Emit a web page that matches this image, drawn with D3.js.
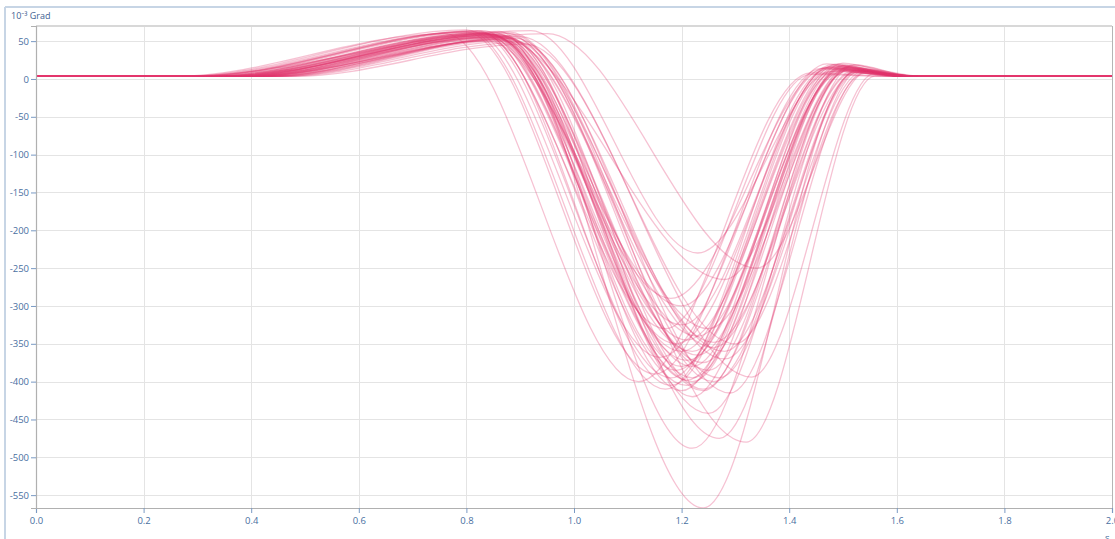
<!DOCTYPE html>
<html><head><meta charset="utf-8">
<script src="https://cdn.jsdelivr.net/npm/d3@7"></script>
<style>
html,body{margin:0;padding:0;background:#fff;overflow:hidden}
svg{display:block;font-family:"Open Sans","Noto Sans",sans-serif}
</style></head>
<body>
<svg id="c" width="1115" height="539"></svg>
<script>
// Axis ticks
const xTicks = [0.0,0.2,0.4,0.6,0.8,1.0,1.2,1.4,1.6,1.8,2.0];
const yTicks = [50,0,-50,-100,-150,-200,-250,-300,-350,-400,-450,-500,-550];
const yUnit = "10\u207B\u00B3 Grad";
const xUnit = "s";
const baseline = 3.5;

// Key points of each trace (time in s, value in 10^-3 Grad)
const startT = [0.26,0.28,0.30,0.33,0.36,0.38,0.31,0.40,0.34,0.38,0.36,0.43,0.27,0.38,0.35,0.41,0.32,0.34,0.39,0.42,0.37,0.29,0.45,0.33,0.40,0.36,0.44,0.31,0.38,0.34,0.41,0.27,0.46,0.35,0.39,0.32,0.43,0.37,0.48,0.30,0.40,0.34,0.42,0.36,0.38,0.33,0.45,0.29];
const peakT  = [0.76,0.80,0.82,0.83,0.85,0.84,0.86,0.87,0.88,0.87,0.85,0.90,0.92,0.95,0.86,0.84,0.83,0.84,0.86,0.88,0.85,0.81,0.89,0.84,0.86,0.87,0.88,0.82,0.85,0.86,0.87,0.80,0.90,0.84,0.88,0.83,0.86,0.85,0.91,0.82,0.87,0.84,0.89,0.86,0.85,0.88,0.87,0.83];
const peakV  = [60,62,64,60,58,55,63,52,60,57,59,56,64,60,55,50,61,59,57,54,62,63,50,60,58,61,53,62,56,59,55,65,48,60,57,61,52,58,46,63,56,60,54,59,57,62,51,64];
const minT   = [1.12,1.15,1.17,1.18,1.20,1.22,1.24,1.22,1.32,1.27,1.25,1.33,1.23,1.34,1.28,1.20,1.19,1.21,1.22,1.24,1.20,1.16,1.26,1.23,1.25,1.28,1.22,1.18,1.21,1.24,1.26,1.17,1.29,1.20,1.27,1.22,1.23,1.19,1.30,1.21,1.25,1.18,1.28,1.24,1.22,1.26,1.21,1.20];
const minV   = [-400,-390,-330,-405,-380,-360,-567,-488,-480,-475,-442,-394,-230,-250,-265,-300,-350,-372,-395,-410,-412,-368,-400,-340,-385,-360,-420,-395,-345,-375,-355,-410,-415,-325,-395,-400,-365,-385,-350,-405,-330,-290,-370,-412,-380,-348,-398,-360];
const overT  = [1.44,1.46,1.44,1.48,1.50,1.49,1.52,1.51,1.56,1.53,1.52,1.56,1.48,1.55,1.51,1.47,1.48,1.50,1.51,1.52,1.49,1.47,1.53,1.50,1.51,1.53,1.50,1.48,1.49,1.51,1.52,1.47,1.54,1.48,1.53,1.50,1.50,1.49,1.54,1.50,1.52,1.47,1.54,1.51,1.50,1.53,1.50,1.49];
const overV  = [8,14,6,15,10,14,8,12,4,10,18,8,10,12,16,20,17,13,11,9,18,15,12,21,14,10,16,19,12,15,11,13,9,17,14,18,12,16,7,14,19,15,11,13,17,12,15,20];
const endT   = [1.59,1.60,1.59,1.61,1.62,1.62,1.63,1.63,1.65,1.64,1.63,1.65,1.62,1.65,1.63,1.61,1.61,1.62,1.62,1.63,1.61,1.60,1.64,1.62,1.63,1.64,1.62,1.61,1.62,1.63,1.63,1.60,1.64,1.61,1.64,1.62,1.62,1.61,1.65,1.62,1.63,1.61,1.64,1.63,1.62,1.64,1.62,1.61];

(function(){
const svg = d3.select("#c");
const W = 1115, H = 539;
const mL = 36, mR = 1112, mT = 26, mB = 508;

const x = d3.scaleLinear().domain([0, 2]).range([mL, mR]);
const y = d3.scaleLinear().domain([-567, 70]).range([mB, mT]);

// panel frame
svg.append("line").attr("x1",5).attr("x2",W).attr("y1",7).attr("y2",7)
  .attr("stroke","#c7d5e5").attr("stroke-width",2);
svg.append("line").attr("x1",5).attr("x2",5).attr("y1",7).attr("y2",H)
  .attr("stroke","#c7d5e5").attr("stroke-width",2);

// grid
svg.append("g").selectAll("line").data(xTicks.slice(1,-1)).join("line")
  .attr("x1",d=>Math.round(x(d))+0.5).attr("x2",d=>Math.round(x(d))+0.5).attr("y1",mT).attr("y2",mB)
  .attr("stroke","#e4e4e4").attr("stroke-width",1);
svg.append("g").selectAll("line").data(yTicks).join("line")
  .attr("x1",mL).attr("x2",mR).attr("y1",d=>Math.round(y(d))+0.5).attr("y2",d=>Math.round(y(d))+0.5)
  .attr("stroke","#e4e4e4").attr("stroke-width",1);

// top & right borders of plot
svg.append("line").attr("x1",mL).attr("x2",mR).attr("y1",mT).attr("y2",mT)
  .attr("stroke","#d8d8d8").attr("stroke-width",2);
svg.append("line").attr("x1",mR+0.5).attr("x2",mR+0.5).attr("y1",mT).attr("y2",mB)
  .attr("stroke","#b5b5b5").attr("stroke-width",1);

// traces
const line = d3.line().x(d=>x(d[0])).y(d=>y(d[1])).curve(d3.curveMonotoneX);
const traces = startT.map((s,i)=>[
  [0, baseline], [s, baseline], [peakT[i], peakV[i]], [minT[i], minV[i]],
  [overT[i], overV[i]], [endT[i], baseline], [2, baseline]
]);
svg.append("clipPath").attr("id","pc").append("rect")
  .attr("x",mL).attr("y",mT).attr("width",mR-mL).attr("height",mB-mT);
svg.append("g").attr("clip-path","url(#pc)").selectAll("path").data(traces).join("path")
  .attr("d", line).attr("fill","none")
  .attr("stroke","#e2366c").attr("stroke-opacity",0.3).attr("stroke-width",1.3);

// axes
const fmtX = d3.format(".1f");
const gx = svg.append("g").attr("transform",`translate(0,${mB})`)
  .call(d3.axisBottom(x).tickValues(xTicks).tickFormat(fmtX).tickSize(5).tickPadding(4));
const gy = svg.append("g").attr("transform",`translate(${mL},0)`)
  .call(d3.axisLeft(y).tickValues(yTicks).tickFormat(d=>String(d)).tickSize(5).tickPadding(2));
[gx,gy].forEach(g=>{
  g.select(".domain").attr("stroke","#b0b0b0").attr("stroke-width",1.2);
  g.selectAll(".tick line").attr("stroke","#7a9ac4");
  g.selectAll(".tick text").attr("fill","#4a6f9f").attr("font-size","9.5px")
    .attr("font-family","'Open Sans','Noto Sans',sans-serif");
});

// unit labels
svg.append("text").attr("x",11).attr("y",19).text(yUnit)
  .attr("fill","#3e6191").attr("font-size","9px");
svg.append("text").attr("x",1105).attr("y",541).text(xUnit)
  .attr("fill","#4a6f9f").attr("font-size","9.5px");
})();
</script>
</body></html>
